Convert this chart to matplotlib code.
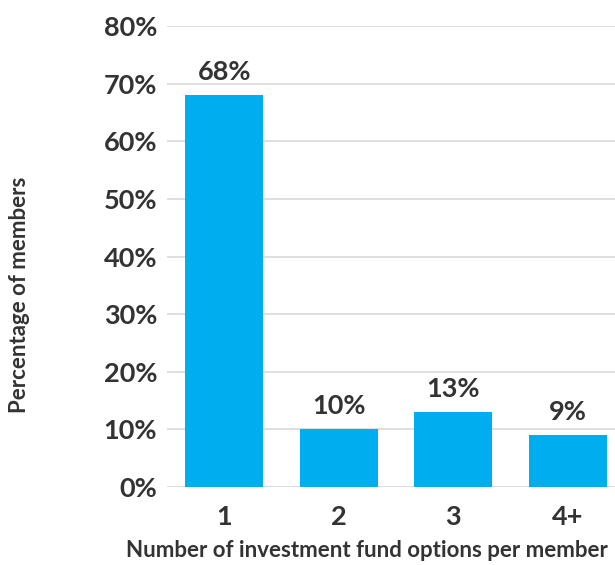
import matplotlib
matplotlib.use("Agg")
import matplotlib.pyplot as plt

categories = ["1", "2", "3", "4+"]
values = [68, 10, 13, 9]
yticks = [0, 10, 20, 30, 40, 50, 60, 70, 80]

plt.rcParams['font.family'] = ['Lato', 'DejaVu Sans']
txt = '#333333'

fig = plt.figure(figsize=(6.15, 5.65), dpi=100)
ax = fig.add_axes([0.2715, 0.138, 0.7285, 0.816])
x = list(range(len(categories)))
ax.bar(x, values, width=0.68, color='#00AEEF', zorder=3)
ax.set_xlim(-0.5, 3.41)
ax.set_ylim(0, 80)
ax.set_yticks(yticks)
ax.set_yticklabels([f"{v}%" for v in yticks], fontsize=19.5, fontweight='bold', color=txt)
ax.set_xticks(x)
ax.set_xticklabels(categories, fontsize=19.5, fontweight='bold', color=txt)
ax.tick_params(axis='both', length=0)
ax.tick_params(axis='y', pad=7)
ax.tick_params(axis='x', pad=13)
ax.grid(axis='y', color='#d9d9d9', linewidth=1.2, zorder=0)
for s in ax.spines.values():
    s.set_visible(False)
for xi, v in zip(x, values):
    ax.annotate(f"{v}%", (xi, v), xytext=(0, 8), textcoords='offset points',
                ha='center', va='bottom', fontsize=19.5, fontweight='bold', color=txt)
fig.text(0.597, 0.025, "Number of investment fund options per member", ha='center', va='center',
         fontsize=16, fontweight='bold', color=txt)
fig.text(0.032, 0.478, "Percentage of members", ha='center', va='center', rotation=90,
         fontsize=16, fontweight='bold', color=txt)
fig.savefig("out.png", dpi=100)
